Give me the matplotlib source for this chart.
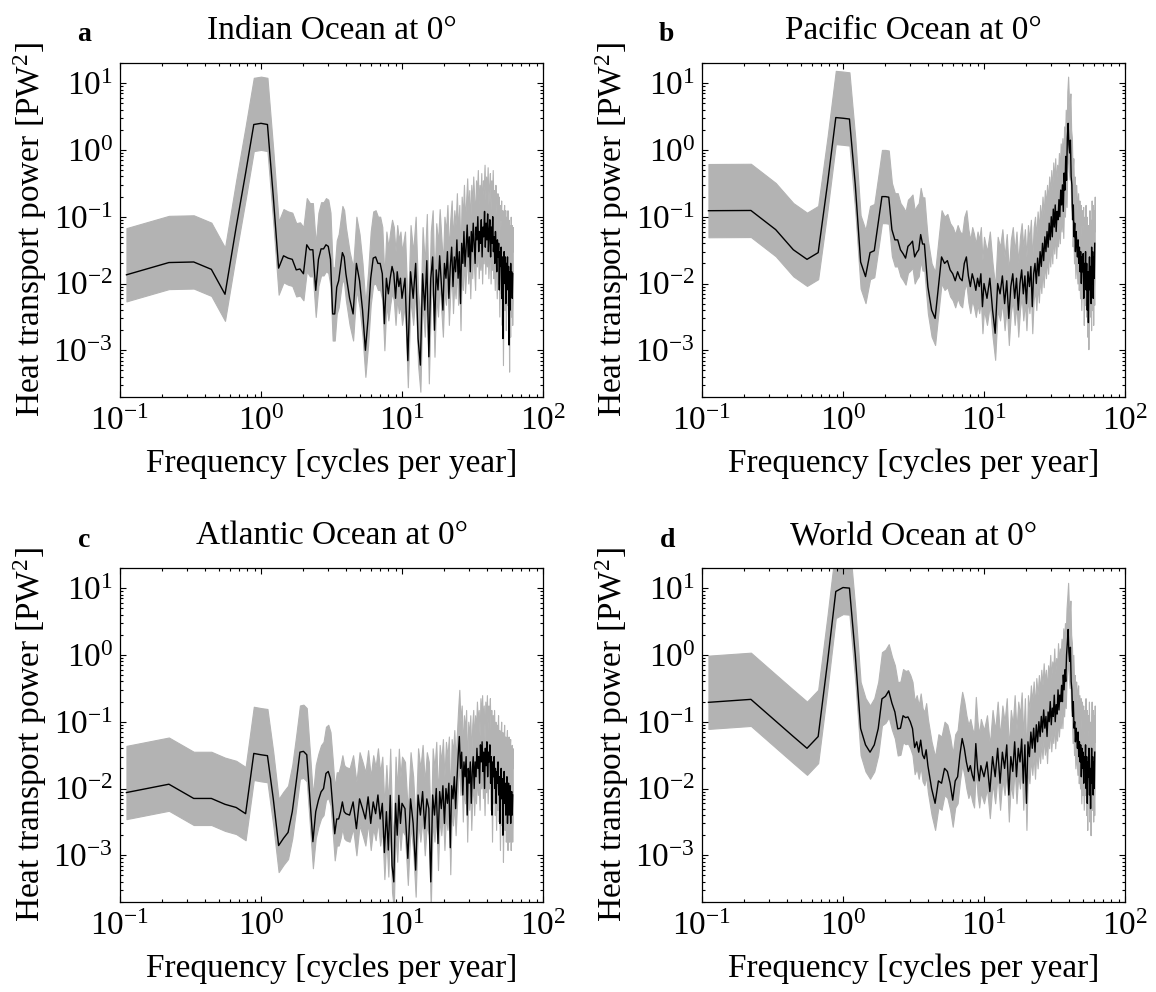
import numpy as np
import matplotlib
matplotlib.use('Agg')
import matplotlib.pyplot as plt
from matplotlib.ticker import LogLocator, NullFormatter

plt.rcParams['font.family'] = ['Liberation Serif', 'DejaVu Serif']
plt.rcParams['mathtext.fontset'] = 'custom'
plt.rcParams['mathtext.rm'] = 'Liberation Serif'
plt.rcParams['mathtext.it'] = 'Liberation Serif:italic'
plt.rcParams['mathtext.bf'] = 'Liberation Serif:bold'

# ---------------- frequency grid (cycles per year) ----------------
freq_lo = np.arange(1, 37) / 9.0          # 1/9 ... 4
freq_mid = np.arange(4.25, 10.01, 0.25)   # 4.25 ... 10
freq_hi = np.arange(10.5, 61.01, 0.5)     # 10.5 ... 61
freq = np.concatenate([freq_lo, freq_mid, freq_hi])

# confidence-band factors (upper = P*UP, lower = P/LO)
UP_FACTOR = 5.0
LO_FACTOR = 2.5

# ---------------- (a) Indian Ocean ----------------
indian_lo = [0.0135, 0.0206, 0.021, 0.0163, 0.0069, 0.07, 0.45, 2.4, 2.5, 2.4,
             0.2, 0.017, 0.026, 0.024, 0.023, 0.016, 0.0165, 0.014, 0.038, 0.032,
             0.032, 0.0079, 0.023, 0.033, 0.033, 0.038, 0.036, 0.023, 0.0035, 0.0035,
             0.0088, 0.011, 0.018, 0.029, 0.025, 0.014]
indian_mid = [0.006, 0.0035, 0.02, 0.011, 0.004, 0.001, 0.003, 0.012, 0.024, 0.025,
              0.02, 0.02, 0.014, 0.0025, 0.012, 0.007, 0.012, 0.018, 0.014, 0.006,
              0.015, 0.009, 0.012, 0.006]
indian_hi = [0.012, 0.0007, 0.015, 0.006, 0.02, 0.0015, 0.0006, 0.014, 0.004, 0.022,
             0.0008, 0.012, 0.025, 0.002, 0.016, 0.008, 0.026, 0.01, 0.004, 0.02,
             0.012, 0.03, 0.006, 0.018, 0.035, 0.009, 0.025, 0.015, 0.045, 0.012,
             0.03, 0.005, 0.04, 0.02, 0.06, 0.018, 0.035, 0.075, 0.025, 0.05,
             0.015, 0.06, 0.03, 0.08, 0.04, 0.02, 0.07, 0.045, 0.1, 0.03,
             0.06, 0.04, 0.09, 0.025, 0.07, 0.05, 0.12, 0.035, 0.08, 0.045,
             0.11, 0.03, 0.06, 0.09, 0.025, 0.07, 0.04, 0.1, 0.03, 0.05,
             0.02, 0.06, 0.035, 0.015, 0.045, 0.025, 0.04, 0.008, 0.03, 0.018,
             0.035, 0.006, 0.025, 0.0015, 0.02, 0.03, 0.01, 0.025, 0.005, 0.02,
             0.012, 0.025, 0.008, 0.018, 0.0012, 0.015, 0.004, 0.02, 0.008, 0.015,
             0.006, 0.014]

# ---------------- (b) Pacific Ocean ----------------
pacific_lo = [0.123, 0.124, 0.064, 0.032, 0.023, 0.029, 0.32, 3.05, 2.98, 2.9,
              0.3, 0.021, 0.0127, 0.029, 0.031, 0.08, 0.2, 0.2, 0.196, 0.064,
              0.045, 0.045, 0.032, 0.028, 0.024, 0.036, 0.039, 0.043, 0.025, 0.029,
              0.032, 0.054, 0.039, 0.039, 0.018, 0.0089]
pacific_mid = [0.004, 0.003, 0.009, 0.025, 0.02, 0.022, 0.016, 0.014, 0.011, 0.015,
               0.012, 0.011, 0.02, 0.025, 0.013, 0.009, 0.014, 0.011, 0.0079, 0.012,
               0.009, 0.014, 0.0045, 0.01]
pacific_hi = [0.006, 0.012, 0.004, 0.0018, 0.01, 0.007, 0.013, 0.005, 0.011, 0.003,
              0.009, 0.014, 0.006, 0.012, 0.004, 0.01, 0.016, 0.007, 0.013, 0.005,
              0.015, 0.009, 0.018, 0.0045, 0.014, 0.02, 0.01, 0.024, 0.013, 0.03,
              0.018, 0.04, 0.022, 0.05, 0.03, 0.06, 0.035, 0.08, 0.045, 0.1,
              0.05, 0.13, 0.07, 0.15, 0.06, 0.12, 0.09, 0.18, 0.1, 0.25,
              0.15, 0.3, 0.12, 0.45, 0.25, 0.8, 0.35, 1.5, 2.5, 1.2,
              0.9, 1.4, 0.4, 0.3, 0.09, 0.15, 0.05, 0.08, 0.03, 0.06,
              0.04, 0.025, 0.045, 0.02, 0.035, 0.015, 0.03, 0.01, 0.025, 0.015,
              0.028, 0.006, 0.02, 0.012, 0.03, 0.008, 0.02, 0.004, 0.015, 0.0026,
              0.012, 0.025, 0.008, 0.018, 0.005, 0.035, 0.01, 0.03, 0.006, 0.025,
              0.012, 0.04]

# ---------------- (c) Atlantic Ocean ----------------
atlantic_lo = [0.0087, 0.0116, 0.0071, 0.0071, 0.0058, 0.0052, 0.0042, 0.0335, 0.032, 0.031,
               0.007, 0.0014, 0.0018, 0.0022, 0.0045, 0.0126, 0.035, 0.036, 0.032, 0.0071,
               0.0016, 0.0045, 0.0067, 0.0089, 0.01, 0.0168, 0.018, 0.014, 0.0056, 0.0021,
               0.0035, 0.0035, 0.0045, 0.0063, 0.0045, 0.0042]
atlantic_mid = [0.004, 0.0063, 0.0025, 0.007, 0.005, 0.0035, 0.0075, 0.003, 0.0063, 0.0042,
                0.008, 0.0035, 0.006, 0.0011, 0.0045, 0.0012, 0.0079, 0.0007, 0.0004, 0.006,
                0.002, 0.0079, 0.003, 0.006]
atlantic_hi = [0.005, 0.0009, 0.007, 0.003, 0.0006, 0.008, 0.004, 0.009, 0.0025, 0.007,
               0.005, 0.0004, 0.008, 0.004, 0.01, 0.0015, 0.009, 0.005, 0.011, 0.003,
               0.01, 0.006, 0.012, 0.0013, 0.011, 0.007, 0.015, 0.005, 0.013, 0.03,
               0.06, 0.02, 0.035, 0.008, 0.025, 0.015, 0.03, 0.004, 0.02, 0.012,
               0.025, 0.006, 0.018, 0.03, 0.01, 0.025, 0.015, 0.04, 0.02, 0.03,
               0.012, 0.045, 0.025, 0.05, 0.018, 0.035, 0.01, 0.04, 0.022, 0.05,
               0.015, 0.035, 0.025, 0.045, 0.012, 0.03, 0.004, 0.025, 0.015, 0.03,
               0.01, 0.02, 0.006, 0.018, 0.012, 0.025, 0.008, 0.015, 0.003, 0.012,
               0.02, 0.007, 0.014, 0.002, 0.01, 0.018, 0.006, 0.012, 0.004, 0.01,
               0.015, 0.003, 0.009, 0.012, 0.004, 0.008, 0.011, 0.003, 0.007, 0.009,
               0.004, 0.008]

# ---------------- (d) World Ocean ----------------
world_lo = [0.195, 0.216, 0.102, 0.06, 0.04, 0.06, 0.8, 8.9, 10.2, 10.0,
            1.0, 0.079, 0.045, 0.035, 0.045, 0.079, 0.22, 0.24, 0.29, 0.19,
            0.14, 0.078, 0.08, 0.123, 0.115, 0.118, 0.1, 0.079, 0.041, 0.05,
            0.035, 0.053, 0.032, 0.028, 0.038, 0.022]
world_mid = [0.01, 0.006, 0.013, 0.012, 0.02, 0.018, 0.012, 0.0067, 0.013, 0.015,
             0.032, 0.056, 0.04, 0.025, 0.018, 0.022, 0.016, 0.013, 0.047, 0.02,
             0.013, 0.022, 0.018, 0.015]
world_hi = [0.025, 0.009, 0.03, 0.015, 0.04, 0.012, 0.035, 0.02, 0.045, 0.008,
            0.03, 0.018, 0.05, 0.015, 0.04, 0.025, 0.055, 0.012, 0.045, 0.006,
            0.05, 0.03, 0.07, 0.04, 0.08, 0.035, 0.09, 0.05, 0.1, 0.06,
            0.12, 0.07, 0.15, 0.08, 0.12, 0.06, 0.14, 0.1, 0.2, 0.09,
            0.16, 0.12, 0.25, 0.1, 0.18, 0.13, 0.3, 0.15, 0.25, 0.2,
            0.35, 0.2, 0.5, 0.3, 0.6, 0.4, 1.0, 1.5, 2.4, 1.1,
            0.8, 1.3, 0.4, 0.3, 0.12, 0.2, 0.08, 0.1, 0.05, 0.08,
            0.06, 0.04, 0.07, 0.03, 0.05, 0.025, 0.045, 0.015, 0.04, 0.02,
            0.035, 0.012, 0.03, 0.02, 0.045, 0.01, 0.03, 0.006, 0.025, 0.015,
            0.04, 0.008, 0.02, 0.005, 0.018, 0.04, 0.012, 0.03, 0.008, 0.025,
            0.01, 0.035]

panel_letters = ['a', 'b', 'c', 'd']
panel_titles = ['Indian Ocean at 0\u00b0', 'Pacific Ocean at 0\u00b0',
                'Atlantic Ocean at 0\u00b0', 'World Ocean at 0\u00b0']
panel_series = [indian_lo + indian_mid + indian_hi,
                pacific_lo + pacific_mid + pacific_hi,
                atlantic_lo + atlantic_mid + atlantic_hi,
                world_lo + world_mid + world_hi]

W, H = 1156, 992
fig = plt.figure(figsize=(W / 100, H / 100), dpi=100)

# axes boxes in pixels: (left, top, right, bottom)
boxes = [(120, 63, 543, 397), (702, 63, 1125, 397),
         (120, 568, 543, 902), (702, 568, 1125, 902)]
letter_pos = [(84, 41), (666, 41), (84, 547), (668, 547)]

FS = 24
FS_TICK = 24
for i in range(4):
    l, t, r, b = boxes[i]
    ax = fig.add_axes([l / W, 1 - b / H, (r - l) / W, (b - t) / H])
    p = np.array(panel_series[i])
    n = min(len(p), len(freq))
    f = freq[:n]
    p = p[:n]
    ax.fill_between(f, p / LO_FACTOR, p * UP_FACTOR, color='#b3b3b3',
                    edgecolor='#b3b3b3', linewidth=0.8, zorder=1)
    ax.plot(f, p, color='black', linewidth=1.0, zorder=2)
    ax.set_xscale('log')
    ax.set_yscale('log')
    ax.set_xlim(0.1, 100)
    ax.set_ylim(2e-4, 20)
    ax.xaxis.set_major_locator(LogLocator(base=10, numticks=10))
    ax.yaxis.set_major_locator(LogLocator(base=10, numticks=10))
    ax.xaxis.set_minor_locator(LogLocator(base=10, subs=np.arange(2, 10), numticks=20))
    ax.yaxis.set_minor_locator(LogLocator(base=10, subs=np.arange(2, 10), numticks=20))
    ax.xaxis.set_minor_formatter(NullFormatter())
    ax.yaxis.set_minor_formatter(NullFormatter())
    ax.tick_params(which='both', direction='in', top=True, right=True,
                   width=0.8, labelsize=FS_TICK)
    ax.tick_params(which='major', length=4.5)
    ax.tick_params(which='minor', length=2.5)
    ax.tick_params(axis='x', which='major', pad=7)
    ax.tick_params(axis='y', which='major', pad=5)
    for s in ax.spines.values():
        s.set_linewidth(0.9)
    ax.set_xlabel('Frequency [cycles per year]', fontsize=FS)
    ax.set_ylabel(r'Heat transport power [PW$^{\mathrm{2}}$]', fontsize=FS)
    ax.xaxis.set_label_coords(0.5, -0.2)
    ax.xaxis.label.set_va('center')
    ax.yaxis.set_label_coords(-0.212, 0.5)
    ax.yaxis.label.set_va('center')
    ax.set_title(panel_titles[i], fontsize=FS, pad=17)
    lx, ly = letter_pos[i]
    fig.text(lx / W, 1 - ly / H, panel_letters[i], fontsize=20,
             fontweight='bold', ha='center', va='baseline')

fig.savefig('out.png', dpi=100)
